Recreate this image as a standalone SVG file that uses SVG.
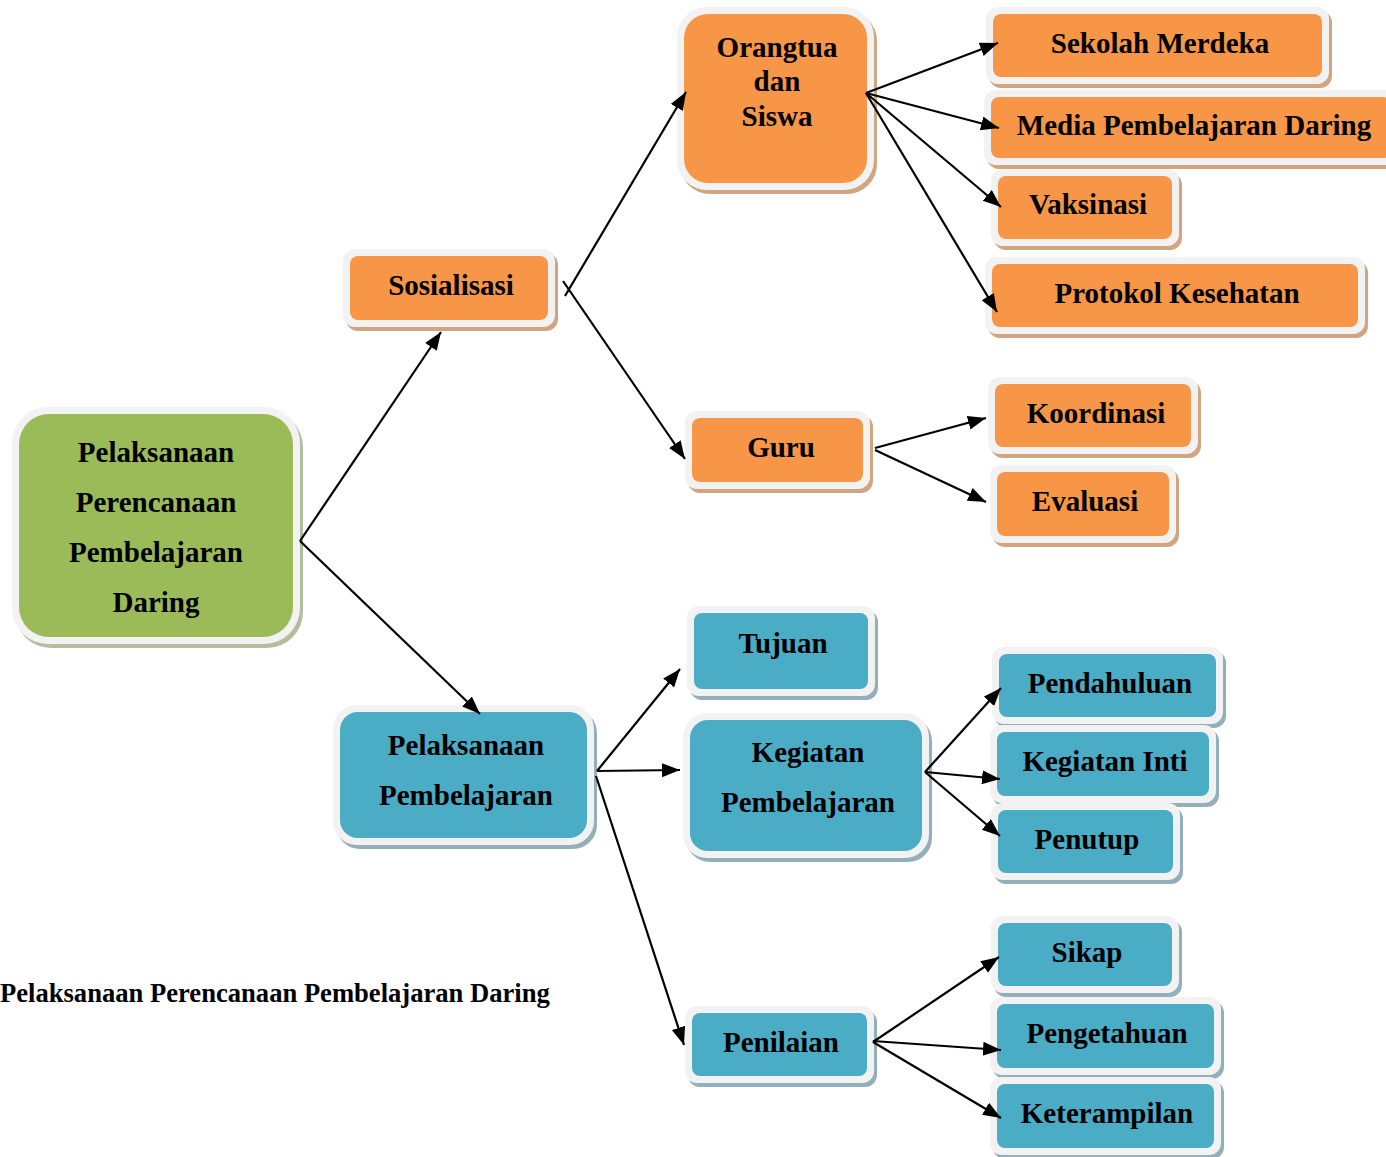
<svg xmlns="http://www.w3.org/2000/svg" width="1386" height="1157" viewBox="0 0 1386 1157">
<style>
  .t{font-family:"Liberation Serif","Times New Roman",serif;font-weight:bold;font-size:29px;fill:#000;text-anchor:middle}
  .cap{font-family:"Liberation Serif","Times New Roman",serif;font-weight:bold;font-size:26.6px;fill:#000}
  .o{fill:#F2F2F2}
  .so{fill:#D2A47F}
  .sb{fill:#93AFBA}
  .sg{fill:#B4BE9E}
  .io{fill:#F79646}
  .ib{fill:#4BACC6}
  .ig{fill:#9BBB59}
  .c line{stroke:#000;stroke-width:2.2;marker-end:url(#ah)}
</style>
<defs>
  <marker id="ah" markerUnits="userSpaceOnUse" markerWidth="20" markerHeight="16" refX="18" refY="7" orient="auto" viewBox="0 0 20 16">
    <path d="M0,0 L18,7 L0,14 z" fill="#000"/>
  </marker>
</defs>
<rect width="1386" height="1157" fill="#fff"/>

<g id="n-main">
  <rect class="sg" x="15" y="411" width="288" height="237" rx="36"/>
  <rect class="o" x="12" y="407" width="288" height="237" rx="36"/>
  <rect class="ig" x="19" y="414" width="274" height="223" rx="30"/>
  <text class="t" x="156" y="462">Pelaksanaan</text>
  <text class="t" x="156" y="512">Perencanaan</text>
  <text class="t" x="156" y="562">Pembelajaran</text>
  <text class="t" x="156" y="612">Daring</text>
</g>
<g id="n-sosialisasi">
  <rect class="so" x="346" y="253" width="212" height="78" rx="12"/>
  <rect class="o" x="343" y="249" width="212" height="78" rx="12"/>
  <rect class="io" x="350" y="256" width="198" height="64" rx="8"/>
  <text class="t" x="451" y="295">Sosialisasi</text>
</g>
<g id="n-orangtua">
  <rect class="so" x="680" y="11" width="197" height="183" rx="30"/>
  <rect class="o" x="677" y="7" width="197" height="183" rx="30"/>
  <rect class="io" x="684" y="14" width="183" height="169" rx="24"/>
  <text class="t" x="777" y="57">Orangtua</text>
  <text class="t" x="777" y="91">dan</text>
  <text class="t" x="777" y="126">Siswa</text>
</g>
<g id="n-sekolah">
  <rect class="so" x="989" y="11" width="343" height="77" rx="12"/>
  <rect class="o" x="986" y="7" width="343" height="77" rx="12"/>
  <rect class="io" x="993" y="14" width="329" height="63" rx="8"/>
  <text class="t" x="1160" y="53">Sekolah Merdeka</text>
</g>
<g id="n-media">
  <rect class="so" x="987" y="94" width="414" height="75" rx="12"/>
  <rect class="o" x="984" y="90" width="414" height="75" rx="12"/>
  <rect class="io" x="991" y="97" width="400" height="61" rx="8"/>
  <text class="t" x="1194" y="135">Media Pembelajaran Daring</text>
</g>
<g id="n-vaksinasi">
  <rect class="so" x="994" y="173" width="188" height="77" rx="12"/>
  <rect class="o" x="991" y="169" width="188" height="77" rx="12"/>
  <rect class="io" x="998" y="176" width="174" height="63" rx="8"/>
  <text class="t" x="1088" y="214">Vaksinasi</text>
</g>
<g id="n-protokol">
  <rect class="so" x="988" y="261" width="380" height="77" rx="12"/>
  <rect class="o" x="985" y="257" width="380" height="77" rx="12"/>
  <rect class="io" x="992" y="264" width="366" height="63" rx="8"/>
  <text class="t" x="1177" y="303">Protokol Kesehatan</text>
</g>
<g id="n-guru">
  <rect class="so" x="688" y="415" width="185" height="78" rx="12"/>
  <rect class="o" x="685" y="411" width="185" height="78" rx="12"/>
  <rect class="io" x="692" y="418" width="171" height="64" rx="8"/>
  <text class="t" x="781" y="457">Guru</text>
</g>
<g id="n-koordinasi">
  <rect class="so" x="991" y="381" width="210" height="77" rx="12"/>
  <rect class="o" x="988" y="377" width="210" height="77" rx="12"/>
  <rect class="io" x="995" y="384" width="196" height="63" rx="8"/>
  <text class="t" x="1096" y="423">Koordinasi</text>
</g>
<g id="n-evaluasi">
  <rect class="so" x="993" y="469" width="186" height="78" rx="12"/>
  <rect class="o" x="990" y="465" width="186" height="78" rx="12"/>
  <rect class="io" x="997" y="472" width="172" height="64" rx="8"/>
  <text class="t" x="1085" y="511">Evaluasi</text>
</g>
<g id="n-pp">
  <rect class="sb" x="336" y="709" width="261" height="140" rx="24"/>
  <rect class="o" x="333" y="705" width="261" height="140" rx="24"/>
  <rect class="ib" x="340" y="712" width="247" height="126" rx="18"/>
  <text class="t" x="466" y="755">Pelaksanaan</text>
  <text class="t" x="466" y="805">Pembelajaran</text>
</g>
<g id="n-tujuan">
  <rect class="sb" x="690" y="610" width="188" height="90" rx="12"/>
  <rect class="o" x="687" y="606" width="188" height="90" rx="12"/>
  <rect class="ib" x="694" y="613" width="174" height="76" rx="8"/>
  <text class="t" x="783" y="653">Tujuan</text>
</g>
<g id="n-kegiatan">
  <rect class="sb" x="686" y="717" width="246" height="145" rx="24"/>
  <rect class="o" x="683" y="713" width="246" height="145" rx="24"/>
  <rect class="ib" x="690" y="720" width="232" height="131" rx="18"/>
  <text class="t" x="808" y="762">Kegiatan</text>
  <text class="t" x="808" y="812">Pembelajaran</text>
</g>
<g id="n-pendahuluan">
  <rect class="sb" x="995" y="651" width="231" height="77" rx="12"/>
  <rect class="o" x="992" y="647" width="231" height="77" rx="12"/>
  <rect class="ib" x="999" y="654" width="217" height="63" rx="8"/>
  <text class="t" x="1110" y="693">Pendahuluan</text>
</g>
<g id="n-inti">
  <rect class="sb" x="993" y="729" width="226" height="78" rx="12"/>
  <rect class="o" x="990" y="725" width="226" height="78" rx="12"/>
  <rect class="ib" x="997" y="732" width="212" height="64" rx="8"/>
  <text class="t" x="1105" y="771">Kegiatan Inti</text>
</g>
<g id="n-penutup">
  <rect class="sb" x="994" y="807" width="189" height="77" rx="12"/>
  <rect class="o" x="991" y="803" width="189" height="77" rx="12"/>
  <rect class="ib" x="998" y="810" width="175" height="63" rx="8"/>
  <text class="t" x="1087" y="849">Penutup</text>
</g>
<g id="n-penilaian">
  <rect class="sb" x="688" y="1010" width="189" height="77" rx="12"/>
  <rect class="o" x="685" y="1006" width="189" height="77" rx="12"/>
  <rect class="ib" x="692" y="1013" width="175" height="63" rx="8"/>
  <text class="t" x="781" y="1052">Penilaian</text>
</g>
<g id="n-sikap">
  <rect class="sb" x="994" y="920" width="188" height="77" rx="12"/>
  <rect class="o" x="991" y="916" width="188" height="77" rx="12"/>
  <rect class="ib" x="998" y="923" width="174" height="63" rx="8"/>
  <text class="t" x="1087" y="962">Sikap</text>
</g>
<g id="n-pengetahuan">
  <rect class="sb" x="993" y="1001" width="231" height="78" rx="12"/>
  <rect class="o" x="990" y="997" width="231" height="78" rx="12"/>
  <rect class="ib" x="997" y="1004" width="217" height="64" rx="8"/>
  <text class="t" x="1107" y="1043">Pengetahuan</text>
</g>
<g id="n-keterampilan">
  <rect class="sb" x="993" y="1081" width="231" height="78" rx="12"/>
  <rect class="o" x="990" y="1077" width="231" height="78" rx="12"/>
  <rect class="ib" x="997" y="1084" width="217" height="64" rx="8"/>
  <text class="t" x="1107" y="1123">Keterampilan</text>
</g>

<g id="connectors" class="c">
  <line x1="300" y1="541" x2="441" y2="332"/>
  <line x1="300" y1="541" x2="480" y2="714"/>
  <line x1="565" y1="296" x2="686" y2="92"/>
  <line x1="563" y1="281" x2="685" y2="459"/>
  <line x1="866" y1="93" x2="998" y2="43"/>
  <line x1="866" y1="93" x2="999" y2="128"/>
  <line x1="866" y1="93" x2="1001" y2="207"/>
  <line x1="866" y1="93" x2="997" y2="312"/>
  <line x1="875" y1="448" x2="986" y2="418"/>
  <line x1="875" y1="450" x2="986" y2="502"/>
  <line x1="597" y1="771" x2="680" y2="669"/>
  <line x1="597" y1="771" x2="680" y2="770"/>
  <line x1="596" y1="776" x2="684" y2="1045"/>
  <line x1="925" y1="772" x2="1001" y2="688"/>
  <line x1="925" y1="772" x2="1000" y2="779"/>
  <line x1="925" y1="772" x2="1000" y2="836"/>
  <line x1="873" y1="1042" x2="999" y2="957"/>
  <line x1="873" y1="1041" x2="1001" y2="1050"/>
  <line x1="873" y1="1042" x2="1001" y2="1118"/>
</g>

<text class="cap" x="0" y="1002">Pelaksanaan Perencanaan Pembelajaran Daring</text>
</svg>
